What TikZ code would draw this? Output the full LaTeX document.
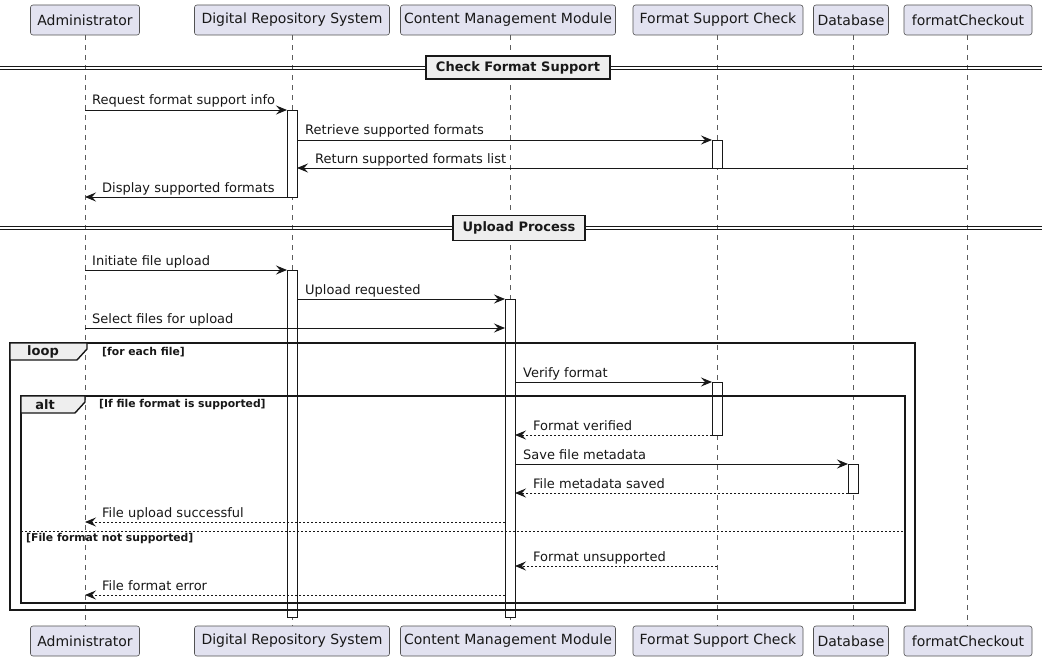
\documentclass[tikz,border=0pt]{standalone}
\usepackage{fontspec}
\setmainfont{DejaVu Sans}
\usetikzlibrary{arrows.meta}
\definecolor{partfill}{HTML}{E2E2F0}
\definecolor{ink}{HTML}{181818}
\definecolor{tabfill}{HTML}{EEEEEE}
\begin{document}
\begin{tikzpicture}[x=1pt,y=-1pt,
  part/.style={draw=ink!75, fill=partfill, rounded corners=2.5pt, minimum height=30pt,
    inner sep=0pt, font=\fontsize{14}{16}\selectfont, text=ink, line width=0.6pt},
  life/.style={draw=ink!70, dash pattern=on 5pt off 5pt, line width=0.6pt},
  actbox/.style={draw=ink, fill=white, line width=0.9pt, minimum width=10pt, inner sep=0pt, outer sep=0pt, anchor=north},
  msg/.style={draw=ink, line width=0.9pt, -{Stealth[length=11pt,width=9pt,inset=4pt]}},
  ret/.style={msg, dash pattern=on 2pt off 2pt},
  lbl/.style={font=\fontsize{13}{15}\selectfont, text=ink, anchor=base west, inner sep=0pt},
  frm/.style={draw=ink, line width=1.4pt},
  tab/.style={draw=ink, fill=tabfill, line width=1.4pt},
  tablbl/.style={font=\bfseries\fontsize{13}{15}\selectfont, text=ink, inner sep=0pt},
  cond/.style={font=\bfseries\fontsize{10.8}{12}\selectfont, text=ink, anchor=west, inner sep=0pt},
  divbox/.style={draw=ink, fill=tabfill, line width=1.4pt, font=\bfseries\fontsize{13}{15}\selectfont, text=ink, inner sep=0pt},
  divline/.style={draw=ink, line width=0.9pt}
]
\useasboundingbox (0,0) rectangle (1042,661);
\fill[white] (0,0) rectangle (1042,661);

% participants
\node[part, minimum width=109pt] (pA) at (85,20) {Administrator};
\node[part, minimum width=195pt] (pD) at (292,20) {Digital Repository System};
\node[part, minimum width=215pt] (pC) at (508,20) {Content Management Module};
\node[part, minimum width=170pt] (pF) at (718,20) {Format Support Check};
\node[part, minimum width=75pt] (pB) at (851,20) {Database};
\node[part, minimum width=128pt] (pK) at (968,20) {formatCheckout};

\node[part, minimum width=109pt] (qA) at (85,641) {Administrator};
\node[part, minimum width=195pt] (qD) at (292,641) {Digital Repository System};
\node[part, minimum width=215pt] (qC) at (508,641) {Content Management Module};
\node[part, minimum width=170pt] (qF) at (718,641) {Format Support Check};
\node[part, minimum width=75pt] (qB) at (851,641) {Database};
\node[part, minimum width=128pt] (qK) at (968,641) {formatCheckout};

% lifeline coordinates
\coordinate (lA) at (85,0);
\coordinate (lD) at (292,0);
\coordinate (lC) at (510,0);
\coordinate (lF) at (717,0);
\coordinate (lB) at (853,0);
\coordinate (lK) at (967,0);

\draw[life] (lA |- pA.south) -- (lA |- qA.north);
\draw[life] (lD |- pD.south) -- (lD |- qD.north);
\draw[life] (lC |- pC.south) -- (lC |- qC.north);
\draw[life] (lF |- pF.south) -- (lF |- qF.north);
\draw[life] (lB |- pB.south) -- (lB |- qB.north);
\draw[life] (lK |- pK.south) -- (lK |- qK.north);

% dividers
\draw[divline] (0,66) -- (1042,66);
\draw[divline] (0,69) -- (1042,69);
\node[divbox, minimum width=184pt, minimum height=23pt] (div1) at (518,67.5) {Check Format Support};
\draw[divline] (0,226.5) -- (1042,226.5);
\draw[divline] (0,229.5) -- (1042,229.5);
\node[divbox, minimum width=132pt, minimum height=25pt] (div2) at (519,228) {Upload Process};

% activations
\node[actbox, minimum height=87pt] (aD1) at (lD |- 0,110) {};
\node[actbox, minimum height=28pt] (aF1) at (lF |- 0,140) {};
\node[actbox, minimum height=347pt] (aD2) at (lD |- 0,270) {};
\node[actbox, minimum height=318pt] (aC1) at (lC |- 0,299) {};
\node[actbox, minimum height=53pt] (aF2) at (lF |- 0,382) {};
\node[actbox, minimum height=29pt] (aB1) at (lB |- 0,464) {};

% frames
\draw[frm] (10,343) rectangle (915,610);
\draw[tab] (10,343) -- (87,343) -- (87,349) -- (77,360) -- (10,360) -- cycle;
\node[tablbl] (loopl) at (43,352) {loop};
\node[cond] (loopc) at (102,352) {[for each file]};

\draw[frm] (21,396) rectangle (905,603);
\draw[tab] (21,396) -- (85,396) -- (85,402) -- (75,413) -- (21,413) -- cycle;
\node[tablbl] (altl) at (45,405) {alt};
\node[cond] (altc) at (99,405) {[If file format is supported]};
\draw[draw=ink, line width=0.8pt, dash pattern=on 2pt off 2pt] (21,531) -- (905,531);
\node[cond] (altc2) at (26,538.5) {[File format not supported]};

% messages
\draw[msg] (lA |- 0,110) -- (aD1.west |- 0,110);
\node[lbl] at (92,105) {Request format support info};
\draw[msg] (aD1.east |- 0,140) -- (aF1.west |- 0,140);
\node[lbl] at (305,135) {Retrieve supported formats};
\draw[msg] (lK |- 0,168) -- (aD1.east |- 0,168);
\node[lbl] at (315,163) {Return supported formats list};
\draw[msg] (aD1.west |- 0,197) -- (lA |- 0,197);
\node[lbl] at (102,192) {Display supported formats};

\draw[msg] (lA |- 0,270) -- (aD2.west |- 0,270);
\node[lbl] at (92,265) {Initiate file upload};
\draw[msg] (aD2.east |- 0,299) -- (aC1.west |- 0,299);
\node[lbl] at (305,294) {Upload requested};
\draw[msg] (lA |- 0,328) -- (aC1.west |- 0,328);
\node[lbl] at (92,323) {Select files for upload};

\draw[msg] (aC1.east |- 0,382) -- (aF2.west |- 0,382);
\node[lbl] at (523,377) {Verify format};
\draw[ret] (aF2.west |- 0,435) -- (aC1.east |- 0,435);
\node[lbl] at (533,430) {Format verified};
\draw[msg] (aC1.east |- 0,464) -- (aB1.west |- 0,464);
\node[lbl] at (523,459) {Save file metadata};
\draw[ret] (aB1.west |- 0,493) -- (aC1.east |- 0,493);
\node[lbl] at (533,488) {File metadata saved};
\draw[ret] (aC1.west |- 0,522) -- (lA |- 0,522);
\node[lbl] at (102,517) {File upload successful};
\draw[ret] (lF |- 0,566) -- (aC1.east |- 0,566);
\node[lbl] at (533,561) {Format unsupported};
\draw[ret] (aC1.west |- 0,595) -- (lA |- 0,595);
\node[lbl] at (102,590) {File format error};
\end{tikzpicture}
\end{document}
